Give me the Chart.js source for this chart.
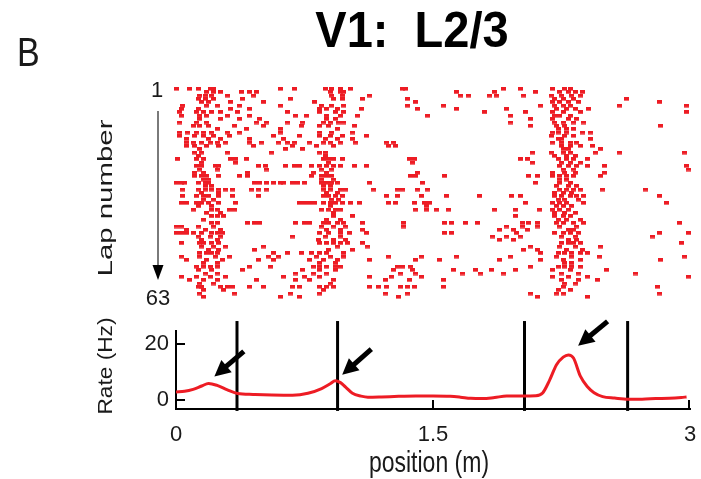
<!DOCTYPE html>
<html><head><meta charset="utf-8">
<script src="https://cdn.jsdelivr.net/npm/chart.js@4.4.0/dist/chart.umd.min.js"></script>
<style>
html,body{margin:0;padding:0;background:#fff;overflow:hidden}
#wrap{position:relative;width:701px;height:479px;background:#fff}
canvas{position:absolute;left:0;top:0}
</style></head>
<body><div id="wrap"><canvas id="raster" width="701" height="479"></canvas><canvas id="rate" width="701" height="479"></canvas></div>
<script>
// ---- data ----
// spike positions (cm along track) for each lap, lap 1 first
const laps = [
[0,8,13,20,22,61,69,87,91,96,102,132,134,191,201,220,227,230],
[18,22,26,38,43,47,90,96,98,164,186,210,224,229,233,237],
[14,17,21,30,45,91,97,113,166,171,183,187,203,219,225,231,236],
[13,17,22,39,67,92,97,109,135,221,226,232,263],
[15,19,32,51,81,140,220,224,229,235,282],
[4,18,24,37,61,85,91,98,135,156,213,221,226,230,259,298],
[3,13,32,43,84,88,94,108,141,164,193,222,228,233,241],
[2,12,16,21,26,36,65,84,93,98,180,204,220,226,236,298],
[3,14,18,30,43,70,76,88,96,106,147,195,221,224,230],
[14,26,37,49,88,93,207,220,229,234],
[2,12,18,47,53,65,74,86,90,95,98,195,221,226,232,238],
[10,14,19,34,51,73,84,89,104,207,222,227,283],
[24,41,61,94,223,228,232],
[2,7,12,16,21,30,37,61,84,91,103,220,223,228,237,242],
[2,11,16,22,31,57,72,84,90,97,111,219,227,232],
[6,19,26,43,63,87,94,103,223,225,242],
[6,10,15,20,24,29,43,50,60,65,69,78,86,90,96,105,123,127,220,225,230,234],
[6,11,18,25,45,68,82,92,124,128,225,230,236,243],
[14,64,74,226,229,248],
[11,15,30,56,84,87,208,219,226,230,245,259,297],
[13,87,221,228,233],
[1,12,16,32,35,41,86,89,92,97,136,139,201,205,223,228,232,240],
[15,35,89,138,208,225,230,236],
[12,15,23,25,48,52,64,69,72,79,84,88,92,96,104,111,224,229,234,240,250,298],
[14,24,53,85,91,226,232,299],
[11,16,42,80,88,141,220,227,233,250],
[11,15,18,25,37,42,79,85,88,91,137,140,157,206,211,220,224,228,232,248],
[16,19,85,92,224,228],
[0,3,5,13,17,19,46,49,53,57,61,63,68,71,75,85,88,91,94,113,144,210,224,230],
[17,21,86,90,222,229,234],
[4,13,17,21,25,29,33,44,48,53,86,90,96,99,115,129,132,141,147,224,228,232,236,249,274],
[15,25,88,94,221,226,231],
[4,12,16,19,25,33,48,86,89,93,97,123,129,143,158,177,196,201,221,225,230,234,238,282],
[16,22,91,95,223,227,235],
[3,6,12,15,19,25,35,72,75,78,81,86,90,93,97,102,107,124,128,139,145,148,204,220,224,228,238,286],
[13,21,90,146,222,226,231],
[10,21,24,31,34,85,89,93,96,140,146,152,159,186,198,212,220,224,229],
[18,26,92,221,227,233],
[21,24,28,92,103,198,221,226,230],
[16,88,96,223,228,236],
[21,24,42,46,49,70,75,78,86,89,94,98,109,133,157,161,169,176,202,206,211,222,226,232,238,294],
[0,3,13,22,85,92,99,133,193,202,211,224,234],
[6,17,26,88,96,109,189,197,205,229,232],
[0,3,6,10,15,21,24,27,84,89,96,101,111,157,161,199,221,226,230,235,282,299],
[13,20,26,68,87,96,185,193,201,225,233,278],
[15,24,83,92,99,189,197,229,234],
[3,14,16,21,25,84,88,92,96,100,109,225,229,232,236,295],
[15,22,29,51,94,112,207,224,233,248],
[19,25,46,89,103,203,211,228,237],
[14,18,21,24,57,65,73,79,84,88,98,213,223,227,231,236,240],
[3,14,23,31,54,60,82,90,98,124,143,164,195,222,231,247,297],
[6,18,27,48,57,78,86,94,113,140,154,189,213,226,236,283],
[16,24,84,93,227,231],
[12,16,20,24,43,55,80,84,88,93,96,129,132,137,207,223,227,231,236],
[13,21,39,74,84,93,127,138,162,175,184,198,220,230,251],
[17,24,70,80,88,131,140,167,178,191,225,235,268],
[3,12,20,29,63,75,84,113,126,143,220,229,240,299],
[8,16,24,47,70,78,92,122,136,156,225,235,246],
[14,22,90,227,233],
[13,15,26,30,33,43,51,68,72,84,88,92,113,118,123,131,135,139,156,226,281],
[16,28,86,223,230],
[14,34,67,84,122,135,207,222,226,282],
[16,61,72,130,211,240]
];
const rateX = [0,0.05,0.1,0.15,0.19,0.24,0.3,0.36,0.45,0.56,0.68,0.77,0.85,0.9,0.93,0.96,0.99,1.03,1.08,1.12,1.2,1.3,1.4,1.5,1.6,1.66,1.72,1.79,1.86,1.93,2.02,2.1,2.14,2.18,2.22,2.26,2.29,2.32,2.36,2.4,2.44,2.49,2.56,2.64,2.72,2.8,2.88,2.95,2.98];
const rateY = [2.9,3.1,3.8,5.0,5.9,5.2,3.6,2.3,2.0,1.8,1.7,2.4,4.1,5.8,6.9,6.2,4.6,2.4,1.4,1.0,1.1,1.3,1.4,1.4,1.3,1.0,0.6,0.5,0.9,1.4,1.4,1.5,2.5,7.0,12.5,15.3,16.1,15.0,8.5,4.8,2.6,1.2,0.7,0.3,0.3,0.5,0.6,0.9,1.1];
const boundaries = [0.356,0.943,2.034,2.636];
const xTicks = [0,1.5,3];
const xTickLabels = ['0','1.5','3'];
const yTicks = [0,20];
const lapTicks = [1,63];
// arrows: [tailX, tailY, tipX, tipY] in (m, Hz)
const arrows = [[0.396,17.4,0.224,8.4],[1.14,18.2,0.97,9.0],[2.519,28.1,2.347,19.4]];

const RED = '#ed1c24';
const FONT = "'Liberation Sans', Arial, Helvetica, sans-serif";

function stretchText(ctx, txt, x, y, font, opt) {
  ctx.save();
  ctx.font = font;
  ctx.fillStyle = opt.color || '#1a1a1a';
  ctx.textAlign = opt.align || 'center';
  ctx.textBaseline = 'alphabetic';
  ctx.translate(x, y);
  if (opt.rot) ctx.rotate(opt.rot);
  ctx.scale(opt.sx || 1, opt.sy || 1);
  ctx.fillText(txt, 0, 0);
  ctx.restore();
}

// ---- raster ----
const dot = document.createElement('canvas');
dot.width = 5; dot.height = 4;
const dctx = dot.getContext('2d');
dctx.fillStyle = RED; dctx.fillRect(0, 0, 5, 3.6);

const spikes = [];
laps.forEach((arr, i) => arr.forEach(cm => spikes.push({x: cm / 100, y: i + 1})));

const rasterDecor = {
  id: 'rasterDecor',
  afterDraw(chart) {
    const ctx = chart.ctx, ys = chart.scales.y;
    ctx.save();
    ctx.font = '22px ' + FONT;
    ctx.fillStyle = '#1a1a1a';
    ctx.textAlign = 'center';
    ctx.textBaseline = 'middle';
    ctx.fillText(String(lapTicks[0]), 157, ys.getPixelForValue(lapTicks[0]) + 2);
    ctx.fillText(String(lapTicks[1]), 158, ys.getPixelForValue(lapTicks[1]) + 2);
    const top = ys.getPixelForValue(lapTicks[0]) + 22;
    const bot = ys.getPixelForValue(lapTicks[1]) - 17;
    ctx.strokeStyle = '#7a7a7a';
    ctx.lineWidth = 2;
    ctx.beginPath(); ctx.moveTo(158, top); ctx.lineTo(158, bot - 12); ctx.stroke();
    ctx.fillStyle = '#000';
    ctx.beginPath(); ctx.moveTo(152.5, bot - 15); ctx.lineTo(163.5, bot - 15); ctx.lineTo(158, bot); ctx.closePath(); ctx.fill();
    ctx.restore();
    stretchText(ctx, 'Lap number', 112, 198, '21px ' + FONT, {rot: -Math.PI / 2, sx: 1.4});
  }
};

new Chart(document.getElementById('raster'), {
  type: 'scatter',
  data: {datasets: [{data: spikes, pointStyle: dot, radius: 2, hoverRadius: 2, clip: false, backgroundColor: RED, borderWidth: 0}]},
  options: {
    responsive: false, animation: false, devicePixelRatio: 1,
    layout: {padding: {left: 176, right: 11, top: 89, bottom: 182}},
    scales: {
      x: {type: 'linear', min: 0, max: 3, display: false},
      y: {type: 'linear', min: 1, max: 63, reverse: true, display: false}
    },
    plugins: {legend: {display: false}, tooltip: {enabled: false}}
  },
  plugins: [rasterDecor]
});

// ---- rate ----
const rateData = rateX.map((x, i) => ({x, y: rateY[i]}));
const datasets = [{data: rateData, borderColor: RED, borderWidth: 3, pointRadius: 0, tension: 0.4, cubicInterpolationMode: 'monotone', fill: false}];
boundaries.forEach(b => datasets.push({data: [{x: b, y: -3.9}, {x: b, y: 28.2}], borderColor: '#000', borderWidth: 3, pointRadius: 0, clip: false, fill: false}));

const rateDecor = {
  id: 'rateDecor',
  afterDraw(chart) {
    const ctx = chart.ctx, xs = chart.scales.x, ys = chart.scales.y, a = chart.chartArea;
    ctx.save();
    ctx.strokeStyle = '#000'; ctx.lineWidth = 2;
    yTicks.forEach(v => { const p = ys.getPixelForValue(v); ctx.beginPath(); ctx.moveTo(a.left, p); ctx.lineTo(a.left + 9, p); ctx.stroke(); });
    xTicks.slice(1).forEach(v => { const p = Math.min(xs.getPixelForValue(v), a.right - 1); ctx.beginPath(); ctx.moveTo(p, a.bottom); ctx.lineTo(p, a.bottom - 9); ctx.stroke(); });
    // arrows
    ctx.fillStyle = '#000'; ctx.strokeStyle = '#000';
    arrows.forEach(([tx, ty, hx, hy]) => {
      const x1 = xs.getPixelForValue(tx), y1 = ys.getPixelForValue(ty);
      const x2 = xs.getPixelForValue(hx), y2 = ys.getPixelForValue(hy);
      const ang = Math.atan2(y2 - y1, x2 - x1);
      const hl = 16, hw = 8;
      const bx = x2 - Math.cos(ang) * hl, by = y2 - Math.sin(ang) * hl;
      ctx.lineWidth = 5; ctx.lineCap = 'butt';
      ctx.beginPath(); ctx.moveTo(x1, y1); ctx.lineTo(bx + Math.cos(ang) * 2, by + Math.sin(ang) * 2); ctx.stroke();
      ctx.beginPath();
      ctx.moveTo(x2, y2);
      ctx.lineTo(bx + Math.sin(ang) * hw, by - Math.cos(ang) * hw);
      ctx.lineTo(bx - Math.sin(ang) * hw, by + Math.cos(ang) * hw);
      ctx.closePath(); ctx.fill();
    });
    ctx.restore();
    stretchText(ctx, 'Rate (Hz)', 112, 366, '21px ' + FONT, {rot: -Math.PI / 2, sx: 1.08});
    stretchText(ctx, 'position (m)', 429, 472, '23px ' + FONT, {sy: 1.3});
    stretchText(ctx, 'V1:  L2/3', 412, 47, 'bold 47px ' + FONT, {sy: 1.07, color: '#000'});
    stretchText(ctx, 'B', 17, 66, '34px ' + FONT, {sy: 1.2, align: 'left'});
  }
};

new Chart(document.getElementById('rate'), {
  type: 'line',
  data: {datasets},
  options: {
    responsive: false, animation: false, devicePixelRatio: 1,
    layout: {padding: {left: 116, right: 11, top: 331, bottom: 0}},
    scales: {
      x: {
        type: 'linear', min: 0, max: 3,
        afterBuildTicks: s => { s.ticks = xTicks.map(v => ({value: v})); },
        afterFit: s => { s.height = 70; s.paddingLeft = 0; s.paddingRight = 0; },
        ticks: {callback: (v, i) => xTickLabels[i], font: {size: 22, family: FONT}, color: '#1a1a1a', padding: 13, maxRotation: 0, autoSkip: false},
        grid: {display: false, drawTicks: false},
        border: {display: true, color: '#000', width: 2}
      },
      y: {
        type: 'linear', min: -3.21, max: 24.64,
        afterBuildTicks: s => { s.ticks = yTicks.map(v => ({value: v})); },
        afterFit: s => { s.width = 60; s.paddingTop = 0; s.paddingBottom = 0; },
        ticks: {callback: v => String(v), font: {size: 22, family: FONT}, color: '#1a1a1a', padding: 7},
        grid: {display: false, drawTicks: false},
        border: {display: true, color: '#000', width: 2}
      }
    },
    plugins: {legend: {display: false}, tooltip: {enabled: false}}
  },
  plugins: [rateDecor]
});
</script>
</body></html>
